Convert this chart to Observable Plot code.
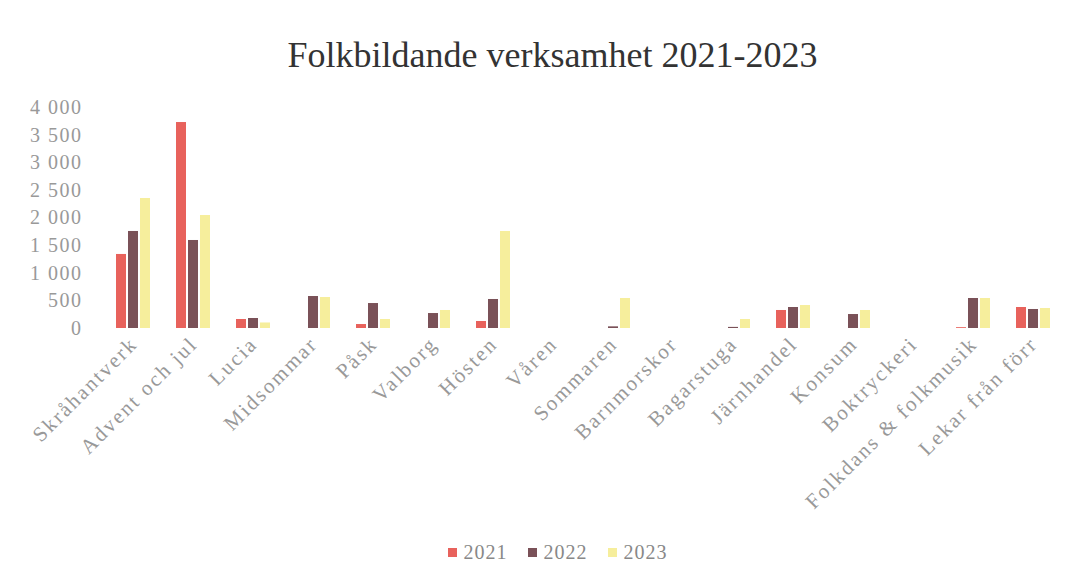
<!DOCTYPE html>
<html><head><meta charset="utf-8">
<script src="https://cdn.jsdelivr.net/npm/d3@7"></script>
<script src="https://cdn.jsdelivr.net/npm/@observablehq/plot@0.6"></script>
<style>
body{margin:0;background:#fff;width:1080px;height:565px;overflow:hidden;position:relative;font-family:"Liberation Serif","DejaVu Serif",serif;}
#title{position:absolute;top:34px;left:0;width:1105px;text-align:center;font-size:36px;color:#333;}
#chart{position:absolute;top:80px;left:0;}
#legend{position:absolute;top:541px;left:0;width:1115px;text-align:center;font-size:20px;color:#888;letter-spacing:1px;}
#legend span.item{display:inline-block;margin:0 10px;}
#legend span.sw{display:inline-block;width:9px;height:9px;margin-right:7px;vertical-align:2px;}
#chart svg g[aria-label="fx-axis tick label"] text{letter-spacing:2.2px;}
#chart svg g[aria-label="y-axis tick label"] text{letter-spacing:1.5px;}
</style></head>
<body>
<div id="title">Folkbildande verksamhet 2021-2023</div>
<div id="chart"></div>
<div id="legend"></div>
<script>
const categories = ["Skråhantverk","Advent och jul","Lucia","Midsommar","Påsk","Valborg","Hösten","Våren","Sommaren","Barnmorskor","Bagarstuga","Järnhandel","Konsum","Boktryckeri","Folkdans & folkmusik","Lekar från förr"];
const years = ["2021","2022","2023"];
const colors = ["#e8625c","#7a5158","#f6ee9c"];
const v2021 = [1340,3728,163,0,72,0,127,0,0,0,0,326,0,0,15,380];
const v2022 = [1756,1593,181,579,452,271,525,0,30,0,20,380,253,0,543,344];
const v2023 = [2353,2045,100,561,163,326,1756,0,543,0,163,416,326,0,543,362];
const yTicks = [0,500,1000,1500,2000,2500,3000,3500,4000];

const series = [v2021, v2022, v2023];
const data = [];
categories.forEach((c, i) => years.forEach((y, j) => data.push({category: c, year: y, value: series[j][i]})));

const fmt = d => d3.format(",")(d).replace(/,/g, " ");

const chart = Plot.plot({
  width: 1080,
  height: 455,
  marginTop: 27,
  marginBottom: 207,
  marginLeft: 109,
  marginRight: 21,
  style: {fontFamily: '"Liberation Serif","DejaVu Serif",serif', background: "transparent", color: "#999"},
  y: {domain: [0, 4000]},
  x: {domain: years, axis: null, paddingInner: 0.15, paddingOuter: 0},
  fx: {domain: categories, paddingInner: 0.38, paddingOuter: 0.1, label: null, axis: null},
  color: {domain: years, range: colors},
  marks: [
    Plot.barY(data, {fx: "category", x: "year", y: "value", fill: "year"}),
    Plot.axisY({ticks: yTicks, tickFormat: fmt, tickSize: 0, tickPadding: 33, label: null, fontSize: 20, fill: "#999"}),
    Plot.axisFx({anchor: "bottom", tickRotate: -45, tickSize: 0, tickPadding: 12, label: null, fontSize: 21, fill: "#999"})
  ]
});
document.getElementById("chart").appendChild(chart);

const legend = document.getElementById("legend");
years.forEach((y, i) => {
  const item = document.createElement("span");
  item.className = "item";
  const sw = document.createElement("span");
  sw.className = "sw";
  sw.style.background = colors[i];
  item.appendChild(sw);
  item.appendChild(document.createTextNode(y));
  legend.appendChild(item);
});
</script>
</body></html>
